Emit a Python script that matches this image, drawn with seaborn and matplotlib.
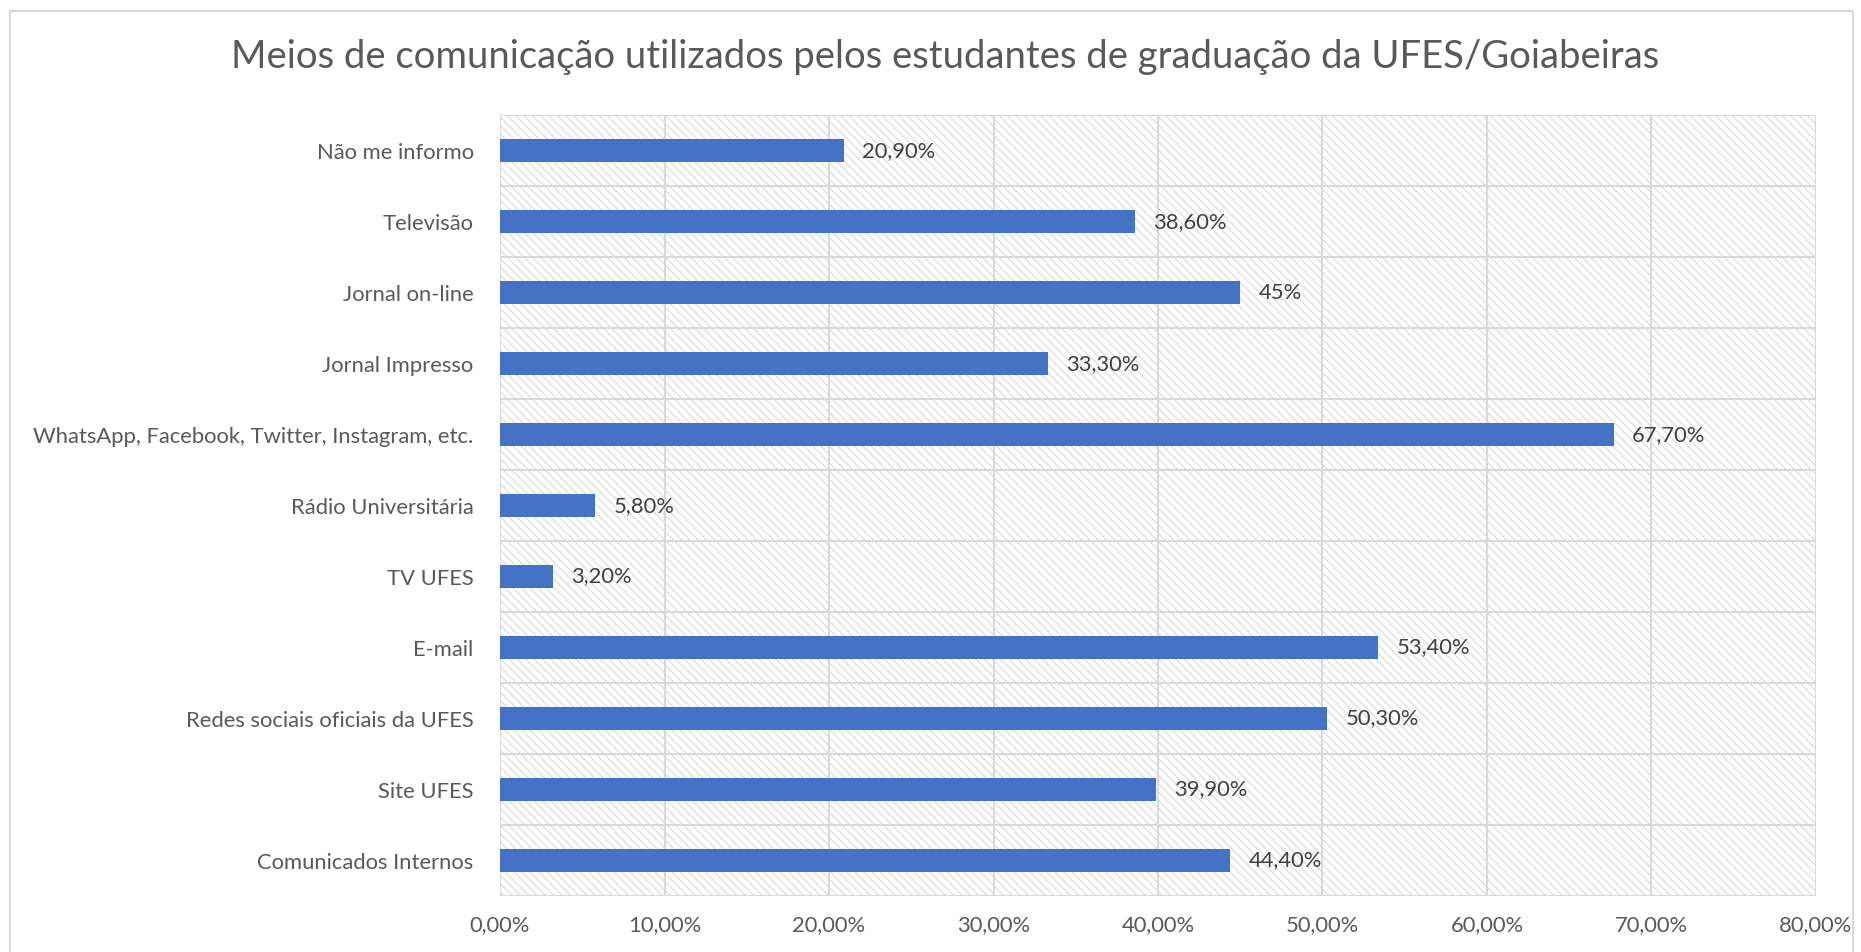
import matplotlib
matplotlib.use("Agg")
import matplotlib.pyplot as plt
import seaborn as sns
import pandas as pd
from matplotlib.patches import Rectangle
from matplotlib.ticker import FuncFormatter

# dados (de cima para baixo)
categorias = [
    "Não me informo",
    "Televisão",
    "Jornal on-line",
    "Jornal Impresso",
    "WhatsApp, Facebook, Twitter, Instagram, etc.",
    "Rádio Universitária",
    "TV UFES",
    "E-mail",
    "Redes sociais oficiais da UFES",
    "Site UFES",
    "Comunicados Internos",
]
valores = [20.9, 38.6, 45.0, 33.3, 67.7, 5.8, 3.2, 53.4, 50.3, 39.9, 44.4]
rotulos = ["20,90%", "38,60%", "45%", "33,30%", "67,70%", "5,80%", "3,20%",
           "53,40%", "50,30%", "39,90%", "44,40%"]
ticks_x = [0, 10, 20, 30, 40, 50, 60, 70, 80]

df = pd.DataFrame({"meio": categorias, "valor": valores})

sns.set_theme(style="white")
plt.rcParams["font.family"] = ["Lato", "DejaVu Sans"]
plt.rcParams["hatch.linewidth"] = 0.8
plt.rcParams["hatch.color"] = "#dadada"

fig = plt.figure(figsize=(18.61, 9.52), dpi=100)
ax = fig.add_axes([0.2687, 0.0588, 0.9758 - 0.2687, 0.879 - 0.0588])

# fundo hachurado
ax.add_patch(Rectangle((0, 0), 1, 1, transform=ax.transAxes, facecolor="white",
                       edgecolor="#dadada", hatch="\\\\\\\\", lw=0, zorder=0))

sns.barplot(data=df, x="valor", y="meio", orient="h", color="#4472C4",
            width=0.32, saturation=1, linewidth=0, ax=ax, zorder=3)

ax.set_xlim(0, 80)
ax.set_xticks(ticks_x)
ax.xaxis.set_major_formatter(FuncFormatter(lambda v, p: f"{v:.2f}".replace(".", ",") + "%"))

# grade
n = len(categorias)
for x in ticks_x:
    ax.axvline(x, color="#d9d9d9", lw=1.5, zorder=1)
for i in range(n + 1):
    ax.axhline(i - 0.5, color="#d9d9d9", lw=1.5, zorder=1)

for s in ax.spines.values():
    s.set_visible(False)

ax.set_xlabel("")
ax.set_ylabel("")
ax.tick_params(axis="both", length=0, labelsize=15.8, colors="#595959")
ax.tick_params(axis="y", pad=19)
ax.tick_params(axis="x", pad=14)

# rótulos das barras
for i, (v, r) in enumerate(zip(valores, rotulos)):
    ax.text(v + 1.1, i, r, va="center", ha="left", fontsize=15.8, color="#404040", zorder=4)

fig.text(0.508, 0.94, "Meios de comunicação utilizados pelos estudantes de graduação da UFES/Goiabeiras",
         ha="center", va="center", fontsize=27.5, color="#595959")

# borda do gráfico
fig.patches.append(Rectangle((10 / 1861, -0.01), (1853 - 10) / 1861, 1 - 11 / 952 + 0.01,
                             transform=fig.transFigure, fill=False, edgecolor="#d9d9d9", lw=1.5))

fig.savefig("out.png", dpi=100)
